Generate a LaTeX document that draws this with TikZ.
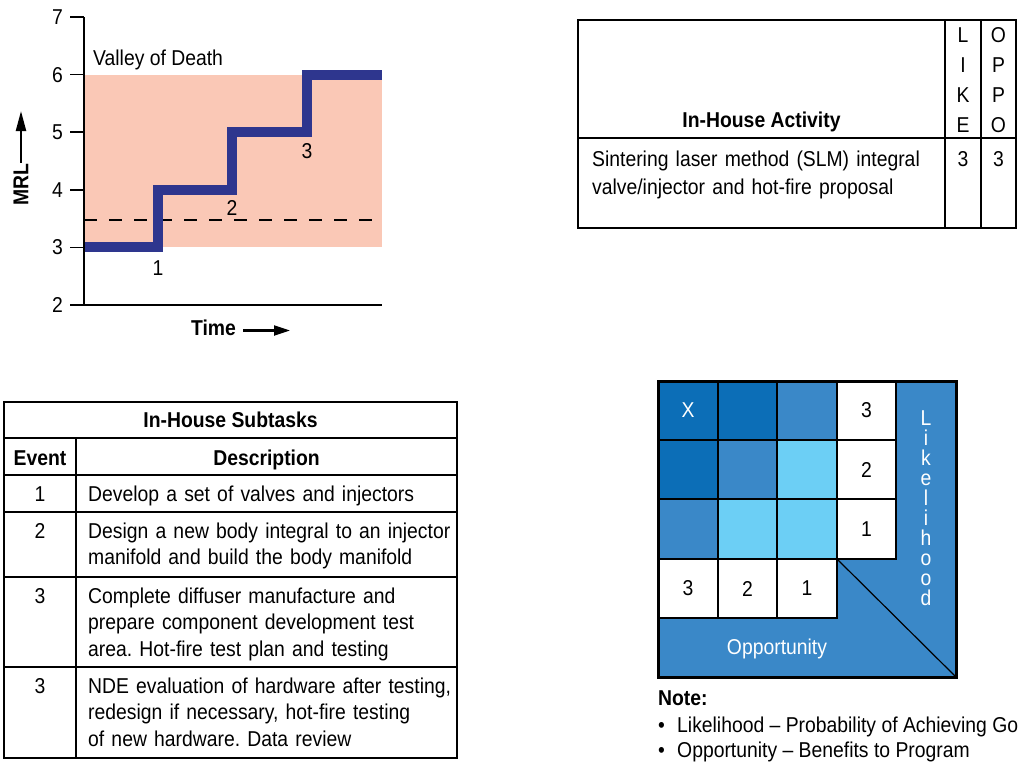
\documentclass[tikz,border=0pt]{standalone}
\usepackage{fontspec}
\setmainfont{Liberation Sans}[FakeStretch=0.9]
\usetikzlibrary{arrows.meta}
\frenchspacing

\definecolor{valley}{RGB}{250,200,182}
\definecolor{stepblue}{RGB}{46,54,142}
\definecolor{riskdark}{RGB}{12,110,183}
\definecolor{riskmid}{RGB}{58,136,200}
\definecolor{risklight}{RGB}{108,207,245}

\begin{document}
\begin{tikzpicture}[x=1pt,y=-1pt,
  txt/.style={font=\fontsize{21.5}{26.5}\selectfont, inner sep=0pt},
  bold/.style={txt, font=\fontsize{21.5}{26.5}\selectfont\bfseries},
  desc/.style={txt, anchor=base west, text width=380, align=left},
  ticklbl/.style={txt, anchor=east},
  frame/.style={line width=2.5},
  rule/.style={line width=1.5},
  cell/.style={draw=black, line width=1.2},
  arr/.style={line width=2.2, -{Triangle[length=#1, width=10pt]}},
  arr/.default=16pt]

\useasboundingbox (0,0) rectangle (1018,761);
\clip (0,0) rectangle (1018,761);

% ---------- MRL step chart ----------
\fill[valley] (84,74.6) rectangle (382,247.4);
\draw[line width=2.5, dash pattern=on 13 off 12] (84,220) -- (382,220);
\draw[stepblue, line width=10]
  (84,247.4) -- (158,247.4) -- (158,189.8) -- (232,189.8)
  -- (232,132.2) -- (307,132.2) -- (307,74.6) -- (382,74.6);
\draw[line width=2.7] (84,17) -- (84,305) -- (382,305);
\foreach \v/\y in {7/17, 6/74.6, 5/132.2, 4/189.8, 3/247.4, 2/305} {
  \draw[rule] (70,\y) -- (84,\y);
  \node[ticklbl] (tick\v) at (63,\y) {\v};
}
\node[txt, anchor=base west] (valleylbl) at (93,65) {Valley of Death};
\node[txt] (ev1) at (158,268) {1};
\node[txt] (ev2) at (232,208) {2};
\node[txt] (ev3) at (307,151) {3};

\node[bold, rotate=90] (mrl) at (21,185) {MRL};
\coordinate (mrltip) at (21,111);
\draw[arr=20pt] (mrl.east) ++(0,-1) -- (mrltip);
\node[bold] (time) at (213.5,327.5) {Time};
\coordinate (timetip) at (290,330.5);
\draw[arr] (243,330.5) -- (timetip);

% ---------- In-house activity table ----------
\draw[frame] (578,20) rectangle (1016,228);
\draw[line width=2] (578,138) -- (1016,138);
\draw[frame] (945,20) -- (945,228);
\draw[frame] (981,20) -- (981,228);
\node[bold, anchor=base] (acthead) at (761.5,127) {In-House Activity};
\node[txt, anchor=base, text width=30, align=center,
      font=\fontsize{21.5}{30}\selectfont] (likehead) at (963,42) {L\\I\\K\\E};
\node[txt, anchor=base, text width=30, align=center,
      font=\fontsize{21.5}{30}\selectfont] (oppohead) at (998.5,42) {O\\P\\P\\O};
\node[txt, anchor=base west, text width=345, align=left,
      font=\fontsize{21.5}{28}\selectfont] (actdesc) at (592,166)
  {Sintering laser method (SLM) integral\\valve/injector and hot-fire proposal};
\node[txt, anchor=base] (likeval) at (963,166) {3};
\node[txt, anchor=base] (oppoval) at (998.5,166) {3};

% ---------- In-house subtasks table ----------
\draw[frame] (4,402) rectangle (457,758);
\foreach \y in {438, 475, 512, 577, 667}
  \draw[rule] (4,\y) -- (457,\y);
\draw[rule] (76,438) -- (76,758);
\node[bold, anchor=base] (subhead) at (230.5,427) {In-House Subtasks};
\node[bold, anchor=base] (eventhead) at (40,465) {Event};
\node[bold, anchor=base] (deschead) at (266.5,465) {Description};

\node[txt, anchor=base] (r1n) at (40,501.5) {1};
\node[desc] (r1d) at (88,501.5) {Develop a set of valves and injectors};
\node[txt, anchor=base] (r2n) at (40,538) {2};
\node[desc] (r2d) at (88,538)
  {Design a new body integral to an injector\\manifold and build the body manifold};
\node[txt, anchor=base] (r3n) at (40,603) {3};
\node[desc] (r3d) at (88,603)
  {Complete diffuser manufacture and\\prepare component development test\\area. Hot-fire test plan and testing};
\node[txt, anchor=base] (r4n) at (40,693) {3};
\node[desc] (r4d) at (88,693)
  {NDE evaluation of hardware after testing,\\redesign if necessary, hot-fire testing\\of new hardware. Data review};

% ---------- Likelihood / opportunity matrix ----------
\fill[riskmid] (658,381) rectangle (956,677);
% row 1
\filldraw[cell, fill=riskdark]  (658,381) rectangle (718,440);
\filldraw[cell, fill=riskdark]  (718,381) rectangle (777,440);
\filldraw[cell, fill=riskmid]   (777,381) rectangle (837,440);
\filldraw[cell, fill=white]     (837,381) rectangle (896,440);
% row 2
\filldraw[cell, fill=riskdark]  (658,440) rectangle (718,499);
\filldraw[cell, fill=riskmid]   (718,440) rectangle (777,499);
\filldraw[cell, fill=risklight] (777,440) rectangle (837,499);
\filldraw[cell, fill=white]     (837,440) rectangle (896,499);
% row 3
\filldraw[cell, fill=riskmid]   (658,499) rectangle (718,559);
\filldraw[cell, fill=risklight] (718,499) rectangle (777,559);
\filldraw[cell, fill=risklight] (777,499) rectangle (837,559);
\filldraw[cell, fill=white]     (837,499) rectangle (896,559);
% opportunity scale
\filldraw[cell, fill=white]     (658,559) rectangle (718,618);
\filldraw[cell, fill=white]     (718,559) rectangle (777,618);
\filldraw[cell, fill=white]     (777,559) rectangle (837,618);
\draw[line width=1.2] (837,559) -- (956,677);
\draw[line width=3] (658,381) rectangle (956,677);

\node[txt, text=white] (xmark) at (688,410.5) {X};
\node[txt] (l3) at (866.5,410.5) {3};
\node[txt] (l2) at (866.5,469.5) {2};
\node[txt] (l1) at (866.5,529) {1};
\node[txt] (o3) at (688,588.5) {3};
\node[txt] (o2) at (747.5,588.5) {2};
\node[txt] (o1) at (807,588.5) {1};
\node[txt, text=white] (opplbl) at (777,649) {Opportunity};
\node[txt, text=white, anchor=base, text width=20, align=center,
      font=\fontsize{21.5}{20}\selectfont] (likelbl) at (926,425)
  {L\\i\\k\\e\\l\\i\\h\\o\\o\\d};

\node[bold, anchor=base west] (note) at (658,705) {Note:};
\node[txt, anchor=base west] (b1) at (658,732) {\textbullet};
\node[txt, anchor=base west] (n1) at (677,732) {Likelihood – Probability of Achieving Goals};
\node[txt, anchor=base west] (b2) at (658,757) {\textbullet};
\node[txt, anchor=base west] (n2) at (677,757) {Opportunity – Benefits to Program};
\end{tikzpicture}
\end{document}
